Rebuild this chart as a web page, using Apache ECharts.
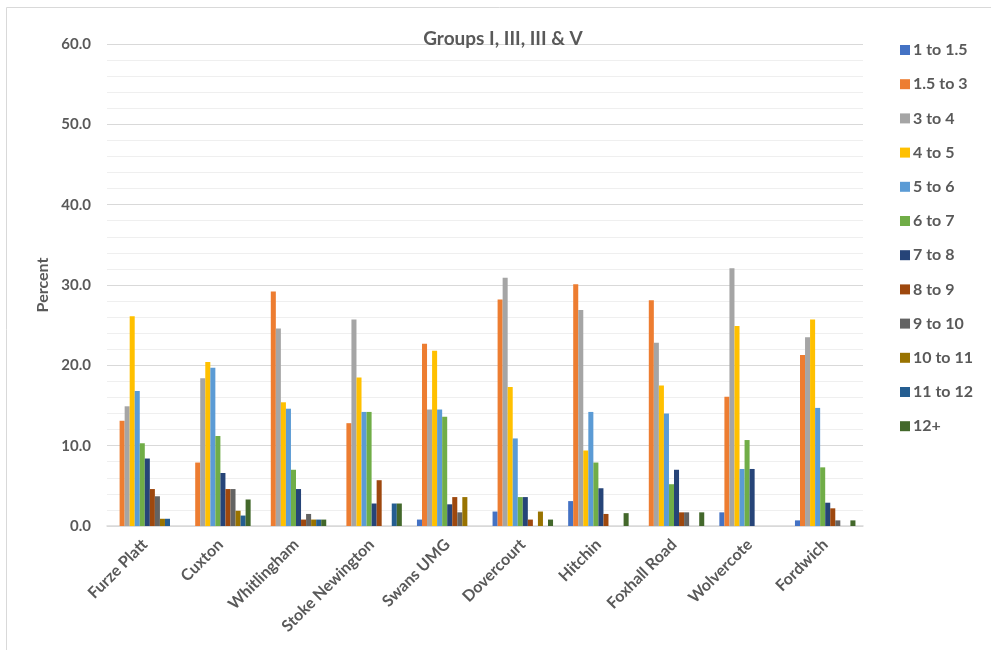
<!DOCTYPE html>
<html>
<head>
<meta charset="utf-8">
<script src="https://cdn.jsdelivr.net/npm/echarts@6/dist/echarts.min.js"></script>
<style>
html,body{margin:0;padding:0;background:#fff;}
#c{width:991px;height:650px;}
</style>
</head>
<body>
<div id="c"></div>
<script>
const categories = ['Furze Platt','Cuxton','Whitlingham','Stoke Newington','Swans UMG','Dovercourt','Hitchin','Foxhall Road','Wolvercote','Fordwich'];
const seriesNames = ['1 to 1.5','1.5 to 3','3 to 4','4 to 5','5 to 6','6 to 7','7 to 8','8 to 9','9 to 10','10 to 11','11 to 12','12+'];
const colors = ['#4472C4','#ED7D31','#A5A5A5','#FFC000','#5B9BD5','#70AD47','#264478','#9E480E','#636363','#997300','#255E91','#43682B'];

const s_1_15   = [0,   0,   0,   0,    0.8, 1.8, 3.1, 0,   1.7, 0.7];
const s_15_3   = [13.1,7.9, 29.2,12.8, 22.7,28.2,30.1,28.1,16.1,21.3];
const s_3_4    = [14.9,18.4,24.6,25.7, 14.5,30.9,26.9,22.8,32.1,23.5];
const s_4_5    = [26.1,20.4,15.4,18.5, 21.8,17.3,9.4, 17.5,24.9,25.7];
const s_5_6    = [16.8,19.7,14.6,14.2, 14.5,10.9,14.2,14.0,7.1, 14.7];
const s_6_7    = [10.3,11.2,7.0, 14.2, 13.6,3.6, 7.9, 5.2, 10.7,7.3];
const s_7_8    = [8.4, 6.6, 4.6, 2.8,  2.7, 3.6, 4.7, 7.0, 7.1, 2.9];
const s_8_9    = [4.6, 4.6, 0.8, 5.7,  3.6, 0.8, 1.5, 1.7, 0,   2.2];
const s_9_10   = [3.7, 4.6, 1.5, 0,    1.7, 0,   0,   1.7, 0,   0.7];
const s_10_11  = [0.9, 1.9, 0.8, 0,    3.6, 1.8, 0,   0,   0,   0];
const s_11_12  = [0.9, 1.3, 0.8, 2.8,  0,   0,   0,   0,   0,   0];
const s_12p    = [0,   3.3, 0.8, 2.8,  0,   0.8, 1.6, 1.7, 0,   0.7];
const allSeries = [s_1_15,s_15_3,s_3_4,s_4_5,s_5_6,s_6_7,s_7_8,s_8_9,s_9_10,s_10_11,s_11_12,s_12p];

const yTicks = {min:0, max:60, interval:10};
const textColor = '#595959';
const fontFamily = 'Lato, "Open Sans", sans-serif';

const chart = echarts.init(document.getElementById('c'));
chart.setOption({
  animation:false,
  color: colors,
  textStyle:{fontFamily:fontFamily},
  title:{
    text:'Groups I, III, III & V',
    left:498, top:24, textAlign:'center',
    textStyle:{fontSize:19, fontWeight:'bold', color:textColor, fontFamily:fontFamily}
  },
  graphic:[{
    type:'rect', left:4, top:5, shape:{width:1100, height:700},
    style:{fill:'none', stroke:'#d9d9d9', lineWidth:1}, silent:true, z:-1
  }],
  legend:{
    orient:'vertical', left:895, top:37, itemWidth:10, itemHeight:10, itemGap:18.2,
    icon:'rect',
    textStyle:{fontSize:16, fontWeight:'bold', color:textColor, fontFamily:fontFamily, padding:[0,0,0,-2]},
    data: seriesNames
  },
  grid:{left:107, right:128, top:44, bottom:124, containLabel:false},
  xAxis:{
    type:'category', data:categories,
    axisLine:{lineStyle:{color:'#d9d9d9', width:1.5}},
    axisTick:{show:false},
    axisLabel:{rotate:45, fontSize:16, fontWeight:'bold', color:textColor, margin:16, interval:0, fontFamily:fontFamily}
  },
  yAxis:{
    type:'value', min:yTicks.min, max:yTicks.max, interval:yTicks.interval,
    name:'Percent', nameLocation:'middle', nameRotate:90, nameGap:56,
    nameTextStyle:{fontSize:16, fontWeight:'bold', color:textColor, fontFamily:fontFamily},
    axisLine:{show:false}, axisTick:{show:false},
    axisLabel:{fontSize:15, fontWeight:'bold', color:textColor, margin:16, formatter:v=>v.toFixed(1), fontFamily:fontFamily},
    splitLine:{lineStyle:{color:'#d9d9d9', width:1.2}},
    minorTick:{show:false, splitNumber:5},
    minorSplitLine:{show:true, lineStyle:{color:'#efefef', width:1}}
  },
  series: allSeries.map((d,i)=>({
    name: seriesNames[i], type:'bar', data:d,
    barGap:'0%', barCategoryGap:'20%'
  }))
});
</script>
</body>
</html>
